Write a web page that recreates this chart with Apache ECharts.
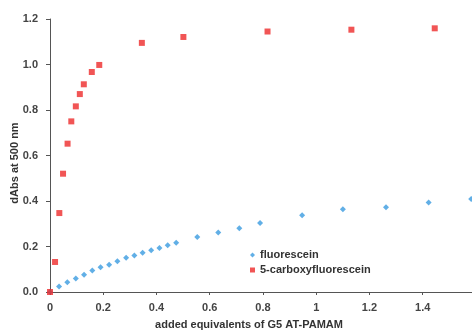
<!DOCTYPE html>
<html>
<head>
<meta charset="utf-8">
<script src="https://cdn.jsdelivr.net/npm/echarts@6/dist/echarts.min.js"></script>
<style>
html,body{margin:0;padding:0;background:#fff;}
#chart{width:472px;height:331px;}
</style>
</head>
<body>
<div id="chart"></div>
<script>
// Data
const fluoresceinX = [0, 0.034, 0.065, 0.097, 0.128, 0.159, 0.19, 0.222, 0.253, 0.286, 0.317, 0.348, 0.380, 0.411, 0.442, 0.474, 0.553, 0.632, 0.711, 0.789, 0.947, 1.100, 1.262, 1.422, 1.582];
const fluoresceinY = [0, 0.024, 0.043, 0.059, 0.076, 0.095, 0.109, 0.120, 0.135, 0.151, 0.160, 0.173, 0.183, 0.193, 0.205, 0.217, 0.242, 0.261, 0.280, 0.303, 0.337, 0.364, 0.372, 0.393, 0.409];
const carboxyX = [0, 0.019, 0.035, 0.049, 0.066, 0.080, 0.097, 0.112, 0.127, 0.157, 0.185, 0.345, 0.501, 0.817, 1.132, 1.445];
const carboxyY = [0, 0.132, 0.347, 0.520, 0.652, 0.750, 0.816, 0.870, 0.913, 0.967, 0.998, 1.095, 1.121, 1.145, 1.153, 1.159];
const seriesNames = ['fluorescein', '5-carboxyfluorescein'];
const xTitle = 'added equivalents of G5 AT-PAMAM';
const yTitle = 'dAbs at 500 nm';

const zip = (xs, ys) => xs.map((x, i) => [x, ys[i]]);
const font = 'Liberation Sans, Arial, Helvetica, sans-serif';

const chart = echarts.init(document.getElementById('chart'), null, {renderer: 'canvas'});
chart.setOption({
  animation: false,
  backgroundColor: '#ffffff',
  grid: {left: 50, right: -4, top: 19, bottom: 39, outerBoundsMode: 'none', containLabel: false},
  legend: {
    orient: 'vertical',
    left: 245,
    top: 243,
    itemWidth: 5,
    itemHeight: 5,
    itemGap: 1,
    textStyle: {fontFamily: font, fontSize: 11, fontWeight: 'bold', color: '#333', lineHeight: 14},
    data: seriesNames
  },
  xAxis: {
    type: 'value',
    min: 0, max: 1.6, interval: 0.2,
    name: xTitle,
    nameLocation: 'middle',
    nameGap: 27,
    nameMoveOverlap: false,
    nameTextStyle: {fontFamily: font, fontSize: 11, fontWeight: 'bold', color: '#333', padding: [0, 28, 0, 0]},
    axisLine: {show: true, lineStyle: {color: '#555', width: 1}},
    axisTick: {show: true, length: 3, lineStyle: {color: '#555'}},
    splitLine: {show: false},
    axisLabel: {
      margin: 10,
      fontFamily: font, fontSize: 11, fontWeight: 'bold', color: '#444',
      showMaxLabel: false,
      formatter: v => (Math.abs(v - 1.6) < 1e-6 ? '' : (v === 0 ? '0' : (Math.round(v * 10) / 10).toString()))
    }
  },
  yAxis: {
    type: 'value',
    min: 0, max: 1.2, interval: 0.2,
    name: yTitle,
    nameLocation: 'middle',
    nameGap: 30,
    nameMoveOverlap: false,
    nameTextStyle: {fontFamily: font, fontSize: 11, fontWeight: 'bold', color: '#333', padding: [0, 15, 0, 0]},
    axisLine: {show: true, lineStyle: {color: '#555', width: 1}},
    axisTick: {show: true, length: 4, lineStyle: {color: '#555'}},
    splitLine: {show: false},
    axisLabel: {
      margin: 12,
      fontFamily: font, fontSize: 11, fontWeight: 'bold', color: '#444',
      formatter: v => v.toFixed(1)
    }
  },
  series: [
    {
      name: seriesNames[0],
      type: 'scatter',
      symbol: 'diamond',
      symbolSize: 6,
      itemStyle: {color: '#3a9be0'},
      data: zip(fluoresceinX, fluoresceinY),
      z: 2
    },
    {
      name: seriesNames[1],
      type: 'scatter',
      symbol: 'rect',
      symbolSize: 6,
      itemStyle: {color: '#ee2a2a'},
      data: zip(carboxyX, carboxyY),
      z: 3
    }
  ]
});
</script>
</body>
</html>
